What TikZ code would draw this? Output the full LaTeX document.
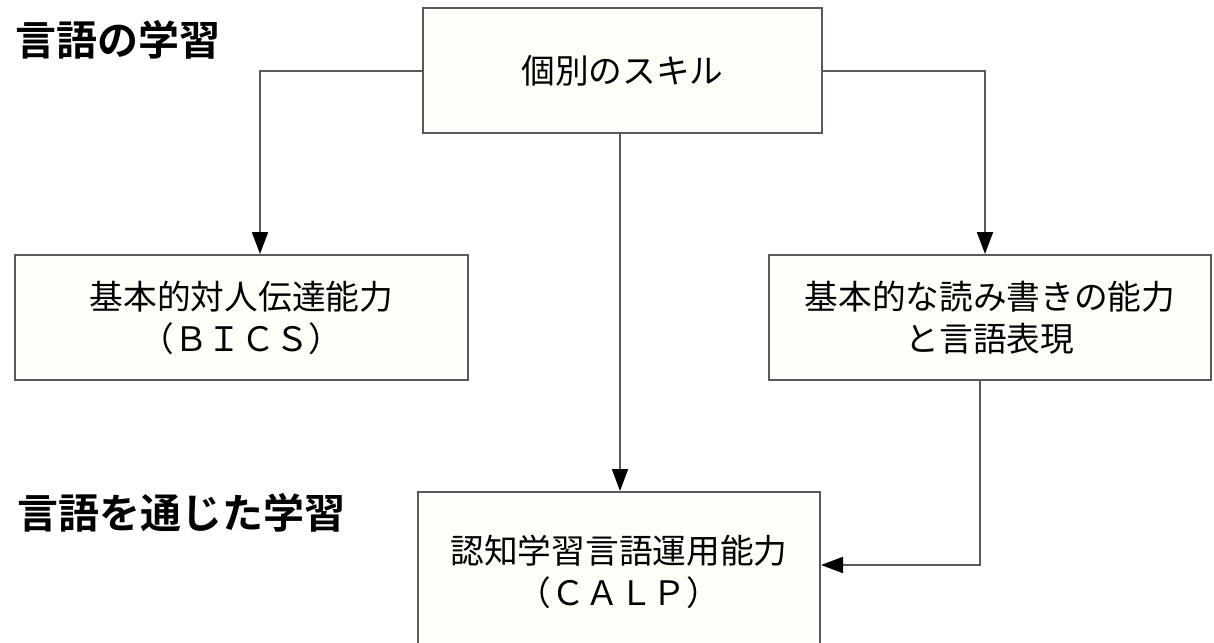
\documentclass[tikz,border=0pt]{standalone}
\usepackage{fontspec}
\setmainfont{Noto Sans CJK JP}[BoldFont={Noto Sans CJK JP Bold}]
\usetikzlibrary{arrows.meta}
\definecolor{boxfill}{HTML}{FFFEF8}
\definecolor{linegray}{HTML}{5A5A5A}
\tikzset{
  box/.style={draw=linegray, line width=2pt, fill=boxfill, align=center, inner sep=0pt,
    font=\fontsize{33.7}{42}\selectfont},
  heading/.style={anchor=west, inner sep=0pt, font=\fontsize{41}{41}\selectfont\bfseries},
  conn/.style={draw=linegray, line width=2pt, -{Triangle[length=22pt,width=16pt,fill=black,color=black]}},
}
\begin{document}
\begin{tikzpicture}[x=1pt,y=-1pt]
\useasboundingbox (0,0) rectangle (1214,642);
\clip (0,0) rectangle (1214,642);
\node[box, minimum width=399pt, minimum height=125pt] (skill) at (622.5,70.5) {個別のスキル};
\node[box, minimum width=453pt, minimum height=125pt] (bics) at (241.5,317.5) {基本的対人伝達能力\\（ＢＩＣＳ）};
\node[box, minimum width=442pt, minimum height=125pt] (read) at (990,317.5) {基本的な読み書きの能力\\と言語表現};
\node[box, minimum width=402pt, minimum height=160pt] (calp) at (619,572) {認知学習言語運用能力\\（ＣＡＬＰ）};
\node[heading] (h1) at (15,40) {言語の学習};
\node[heading] (h2) at (17,513) {言語を通じた学習};
\draw[conn] (skill.west) -| ([xshift=18.5pt]bics.north);
\draw[conn] (skill.east) -| ([xshift=-5pt]read.north);
\draw[conn] ([xshift=-2.5pt]skill.south) -- ([xshift=1pt]calp.north);
\draw[conn] ([xshift=-10pt]read.south) |- ([yshift=7pt]calp.east);
\end{tikzpicture}
\end{document}
